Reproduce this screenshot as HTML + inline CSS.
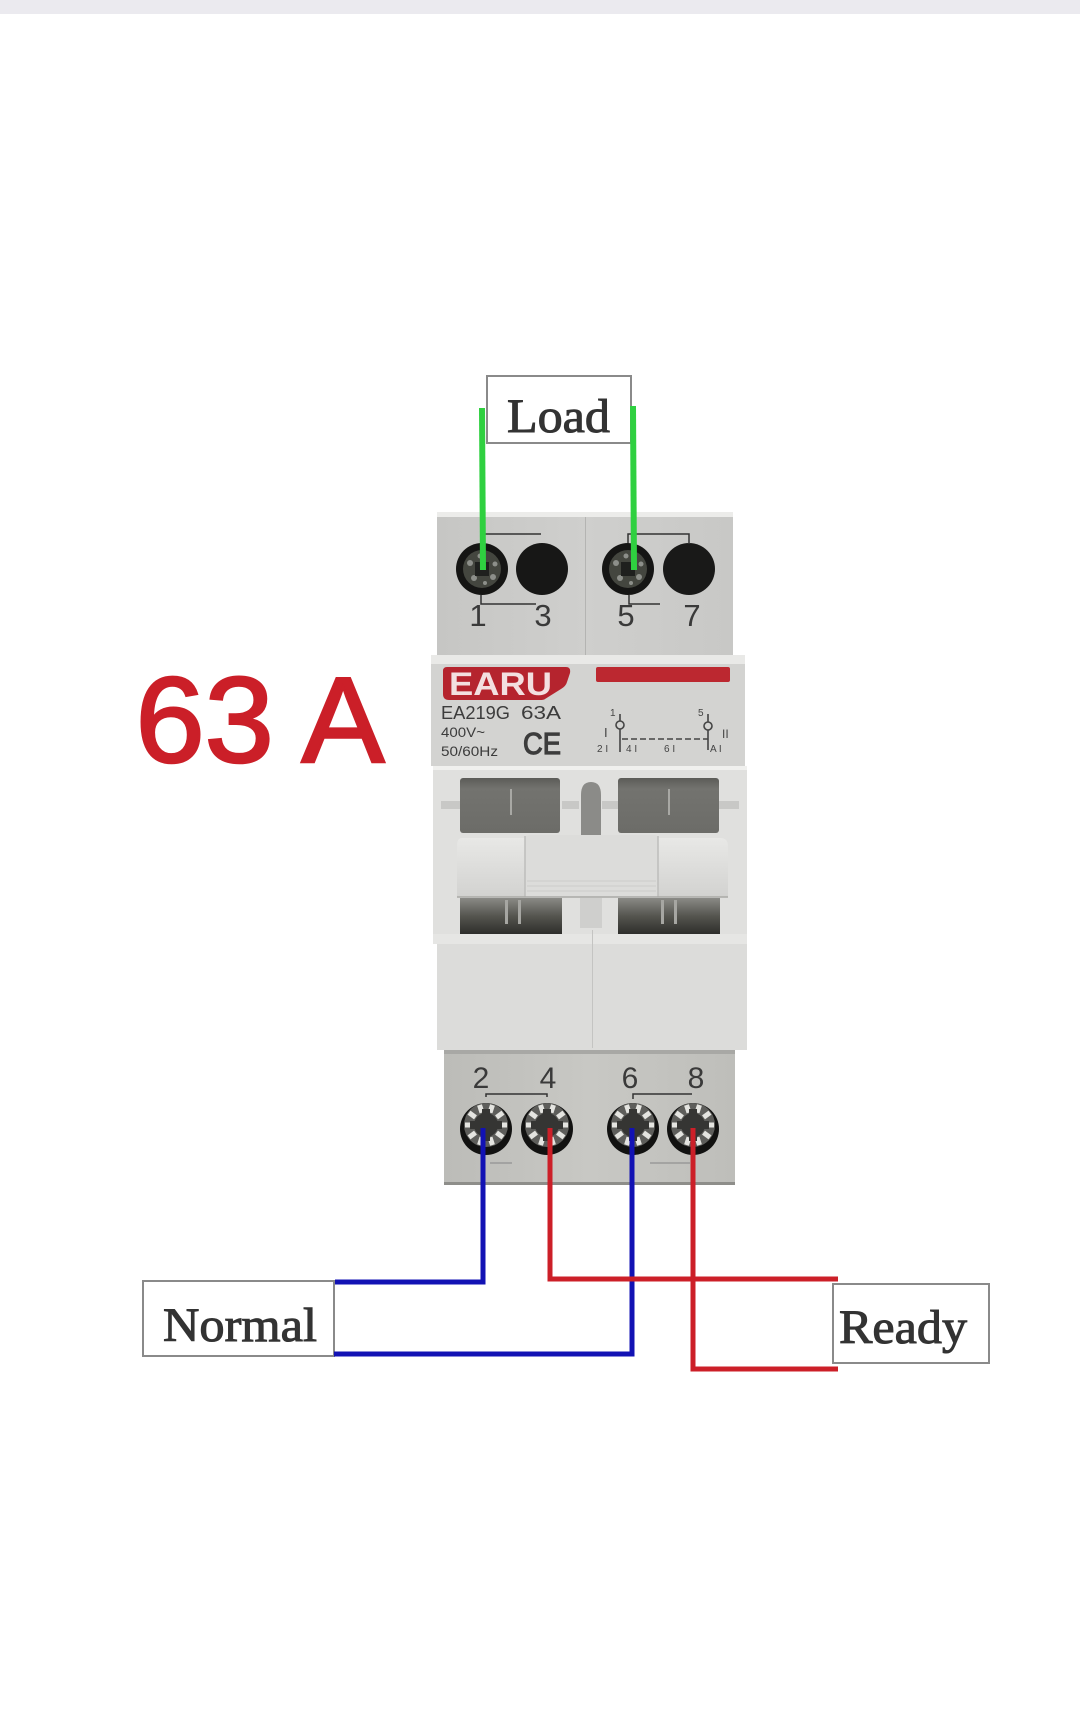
<!DOCTYPE html>
<html><head><meta charset="utf-8"><style>html,body{margin:0;padding:0;background:#fff}svg{display:block}</style></head><body>
<svg xmlns="http://www.w3.org/2000/svg" xmlns:xlink="http://www.w3.org/1999/xlink" width="1080" height="1716" viewBox="0 0 1080 1716">
<defs>
<linearGradient id="tb" x1="0" y1="0" x2="1" y2="0"><stop offset="0" stop-color="#c6c6c4"/><stop offset=".5" stop-color="#cfcfcd"/><stop offset="1" stop-color="#c8c8c6"/></linearGradient>
<linearGradient id="bb" x1="0" y1="0" x2="1" y2="0"><stop offset="0" stop-color="#bcbcb8"/><stop offset=".5" stop-color="#c8c8c4"/><stop offset="1" stop-color="#bebeba"/></linearGradient>
<linearGradient id="win1" x1="0" y1="0" x2="0" y2="1"><stop offset="0" stop-color="#5c5c58"/><stop offset=".2" stop-color="#73736f"/><stop offset="1" stop-color="#6c6c68"/></linearGradient>
<linearGradient id="win2" x1="0" y1="0" x2="0" y2="1"><stop offset="0" stop-color="#8a8a86"/><stop offset=".5" stop-color="#55554f"/><stop offset="1" stop-color="#2e2e2b"/></linearGradient>
<linearGradient id="tog" x1="0" y1="0" x2="0" y2="1"><stop offset="0" stop-color="#e8e8e6"/><stop offset="1" stop-color="#d2d2d0"/></linearGradient>
<g id="tooth"><rect x="-2.500" y="-21" width="5" height="8" fill="#e4e4e0"/></g>
<g id="screwG">
<circle cx="0" cy="0" r="26" fill="#121211"/>
<circle cx="0" cy="-4" r="22" fill="#5e5e5b"/>
<g transform="translate(0,-4)">
<use href="#tooth" transform="rotate(18)"/><use href="#tooth" transform="rotate(54)"/><use href="#tooth" transform="rotate(90)"/><use href="#tooth" transform="rotate(126)"/><use href="#tooth" transform="rotate(162)"/><use href="#tooth" transform="rotate(198)"/><use href="#tooth" transform="rotate(234)"/><use href="#tooth" transform="rotate(270)"/><use href="#tooth" transform="rotate(306)"/><use href="#tooth" transform="rotate(342)"/>
<circle r="12" fill="#353533"/>
<rect x="-4" y="-16" width="8" height="32" fill="#353533"/>
<rect x="-16" y="-4" width="32" height="8" fill="#353533"/>
</g>
</g>
<g id="holeG">
<circle r="26" fill="#151514"/>
<circle r="19" fill="#44463f"/>
<g fill="#8d8f8a"><circle cx="-12" cy="-6" r="3"/><circle cx="-8" cy="9" r="3"/><circle cx="11" cy="8" r="3"/><circle cx="13" cy="-5" r="2.500"/><circle cx="-2" cy="-13" r="2.500"/><circle cx="3" cy="14" r="2"/></g>
<rect x="-7" y="-7" width="14" height="14" fill="#1f201e"/>
</g>
</defs>
<rect width="1080" height="1716" fill="#fff"/>
<rect width="1080" height="14" fill="#ebeaef"/>

<!-- top terminal block -->
<rect x="437" y="512" width="296" height="6" fill="#ececea"/>
<rect x="437" y="517" width="296" height="139" fill="url(#tb)"/>
<rect x="585" y="517" width="1" height="139" fill="#b4b4b2"/>
<use href="#holeG" transform="translate(482,569)"/>
<circle cx="542" cy="569" r="26" fill="#171716"/>
<use href="#holeG" transform="translate(628,569)"/>
<circle cx="689" cy="569" r="26" fill="#191918"/>
<g stroke="#333" stroke-width="1.5" fill="none">
<path d="M485 534H541"/><path d="M628 543V534H689V544"/>
<path d="M481 595V604H536"/><path d="M629 595V604H660"/>
</g>
<g font-family="Liberation Sans, sans-serif" font-size="31" fill="#3a3a3a" text-anchor="middle">
<text x="478" y="626">1</text><text x="543" y="626">3</text><text x="626" y="626">5</text><text x="692" y="626">7</text>
</g>

<!-- label panel -->
<rect x="431" y="655" width="314" height="111" fill="#d3d3d1"/>
<rect x="431" y="655" width="314" height="9" fill="#e9e9e7"/>
<path d="M447 667H566Q571 667 570 673L567 682Q566 686 561 689L545 699Q544 700 540 700H449Q443 700 443 694V671Q443 667 447 667Z" fill="#b5242e"/>
<text x="449" y="695" font-family="Liberation Sans, sans-serif" font-size="32" font-weight="bold" fill="#f3dfe0" textLength="103" lengthAdjust="spacingAndGlyphs">EARU</text>
<rect x="596" y="667" width="134" height="15" rx="2" fill="#bc2830"/>
<g font-family="Liberation Sans, sans-serif" fill="#3c3c3c">
<text x="441" y="719" font-size="18.500" textLength="69" lengthAdjust="spacingAndGlyphs">EA219G</text>
<text x="521" y="719" font-size="18.500" textLength="40" lengthAdjust="spacingAndGlyphs">63A</text>
<text x="441" y="737" font-size="13.500" textLength="44" lengthAdjust="spacingAndGlyphs">400V~</text>
<text x="441" y="756" font-size="13.500" textLength="57" lengthAdjust="spacingAndGlyphs">50/60Hz</text>
<text x="523" y="754" font-size="31" stroke="#3c3c3c" stroke-width="1.200" textLength="38" lengthAdjust="spacingAndGlyphs">CE</text>
</g>
<g stroke="#444" stroke-width="1.6" fill="#d3d3d1">
<path d="M620 714V752" fill="none"/><circle cx="620" cy="725" r="4"/>
<path d="M708 714V750" fill="none"/><circle cx="708" cy="726" r="4"/>
<path d="M622 739H708" stroke-dasharray="6 3" fill="none"/>
</g>
<g font-family="Liberation Sans, sans-serif" font-size="10" fill="#444">
<text x="610" y="716">1</text><text x="698" y="716">5</text>
<text x="604" y="737" font-size="13">I</text><text x="722" y="738" font-size="12">II</text>
<text x="597" y="752">2 I</text><text x="626" y="752">4 I</text><text x="664" y="752">6 I</text><text x="710" y="752">A I</text>
</g>

<!-- switch section -->
<rect x="433" y="766" width="314" height="178" fill="#e0e0de"/>
<rect x="433" y="766" width="314" height="4" fill="#f0f0ee"/>
<rect x="441" y="801" width="19" height="8" fill="#c8c8c6"/>
<rect x="562" y="801" width="17" height="8" fill="#c8c8c6"/>
<rect x="602" y="801" width="16" height="8" fill="#c8c8c6"/>
<rect x="719" y="801" width="20" height="8" fill="#c8c8c6"/>
<rect x="460" y="778" width="100" height="55" rx="3" fill="url(#win1)"/>
<rect x="618" y="778" width="101" height="55" rx="3" fill="url(#win1)"/>
<rect x="510" y="789" width="2" height="26" fill="#a8a8a4"/>
<rect x="668" y="789" width="2" height="26" fill="#a8a8a4"/>
<path d="M581 835V795Q581 782 591 782Q601 782 601 795V835Z" fill="#8b8b88"/>
<rect x="460" y="898" width="102" height="36" fill="url(#win2)"/>
<rect x="618" y="898" width="102" height="36" fill="url(#win2)"/>
<g fill="#a6a6a2"><rect x="505" y="900" width="3" height="24"/><rect x="518" y="900" width="3" height="24"/><rect x="661" y="900" width="3" height="24"/><rect x="674" y="900" width="3" height="24"/></g>
<rect x="580" y="898" width="22" height="30" fill="#cfcfcd"/>
<path d="M462 838H720Q728 838 728 846V897H457V846Q457 838 462 838Z" fill="url(#tog)"/>
<path d="M530 835H654Q658 835 658 839V897H525V839Q525 835 530 835Z" fill="#dcdcda"/>
<path d="M525 836V897M658 836V897" stroke="#bdbdbb" stroke-width="1.500"/>
<path d="M527 881H656M527 886H656M527 891H656" stroke="#cbcbc9" stroke-width="1"/>
<path d="M457 897H728" stroke="#a9a9a6" stroke-width="1.500"/>

<!-- lower body -->
<rect x="437" y="942" width="310" height="108" fill="#dcdcda"/>
<rect x="433" y="934" width="314" height="10" fill="#e6e6e4"/>
<rect x="592" y="930" width="1" height="118" fill="#c4c4c2"/>

<!-- bottom terminal block -->
<rect x="444" y="1050" width="291" height="135" fill="url(#bb)"/>
<rect x="444" y="1050" width="291" height="4" fill="#a8a8a5"/>
<rect x="444" y="1182" width="291" height="3" fill="#8e8e8a"/>
<g font-family="Liberation Sans, sans-serif" font-size="30" fill="#3a3a3a" text-anchor="middle">
<text x="481" y="1088">2</text><text x="548" y="1088">4</text><text x="630" y="1088">6</text><text x="696" y="1088">8</text>
</g>
<g stroke="#333" stroke-width="1.5" fill="none"><path d="M486 1097V1094H547V1097"/><path d="M633 1099V1094H692"/>
<path d="M490 1163H512M650 1163H690" stroke="#999"/></g>
<use href="#screwG" transform="translate(486,1129)"/>
<use href="#screwG" transform="translate(547,1129)"/>
<use href="#screwG" transform="translate(633,1129)"/>
<use href="#screwG" transform="translate(693,1129)"/>

<!-- label boxes -->
<g fill="#fff" stroke="#8a8a8a" stroke-width="2">
<rect x="487" y="376" width="144" height="67"/>
<rect x="143" y="1281" width="191" height="75"/>
<rect x="833" y="1284" width="156" height="79"/>
</g>
<g font-family="Liberation Serif, serif" fill="#333" stroke="#333" stroke-width="1">
<text x="507" y="432" font-size="48" textLength="103" lengthAdjust="spacingAndGlyphs">Load</text>
<text x="163" y="1341" font-size="48" textLength="154" lengthAdjust="spacingAndGlyphs">Normal</text>
<text x="839" y="1343" font-size="48" textLength="128" lengthAdjust="spacingAndGlyphs">Ready</text>
</g>

<!-- wires -->
<g fill="none" stroke-width="5">
<path d="M482 408L483 570" stroke="#2fd040" stroke-width="6"/>
<path d="M633 406L634 570" stroke="#2fd040" stroke-width="6"/>
<path d="M483 1128V1282H335" stroke="#1212b4"/>
<path d="M632 1128V1354H334" stroke="#1212b4"/>
<path d="M550 1128V1279H838" stroke="#cc1f28"/>
<path d="M693 1128V1369H838" stroke="#cc1f28"/>
</g>

<text x="135.500" y="762" font-family="Liberation Sans, sans-serif" font-size="122" fill="#cb1f28" stroke="#cb1f28" stroke-width="2.500" textLength="249" lengthAdjust="spacingAndGlyphs">63 A</text>
</svg>
</body></html>
